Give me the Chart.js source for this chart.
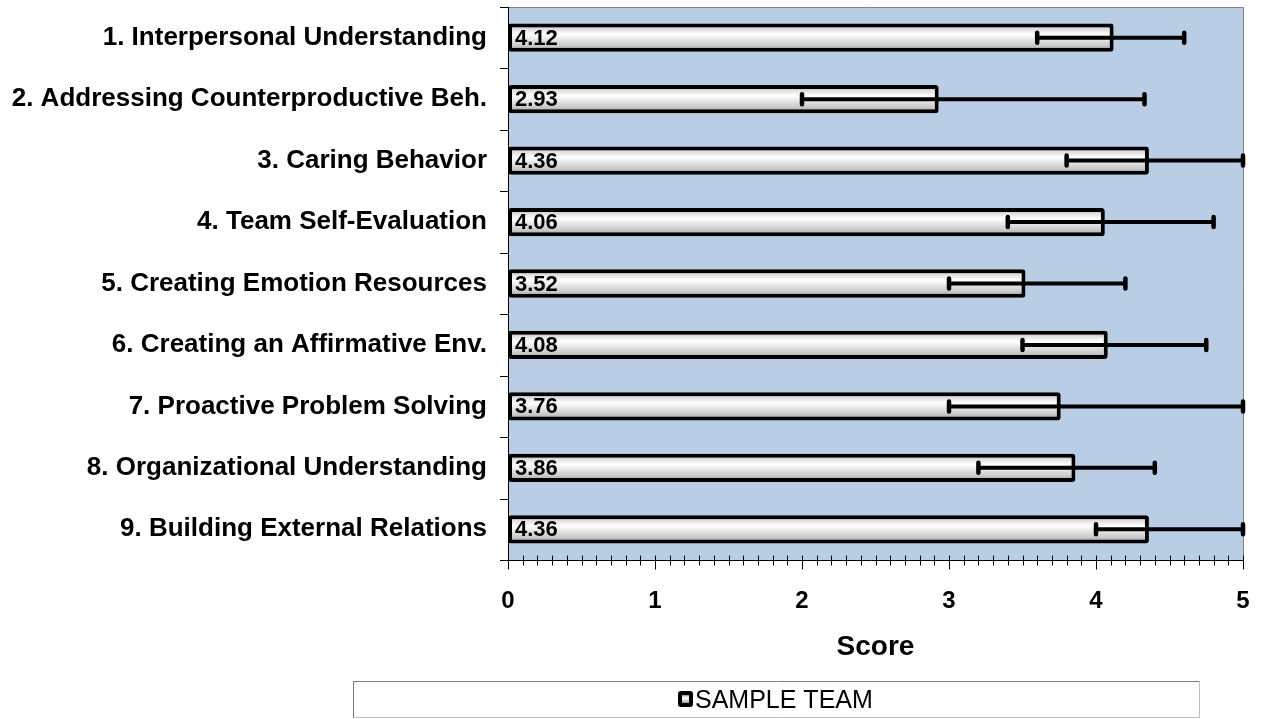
<!DOCTYPE html>
<html>
<head>
<meta charset="utf-8">
<script src="https://cdn.jsdelivr.net/npm/chart.js@4/dist/chart.umd.min.js"></script>
<style>
  html, body { margin: 0; padding: 0; background: #fff; }
  #wrap { width: 1261px; height: 719px; position: relative; }
</style>
</head>
<body>
<div id="wrap"><canvas id="teamChart"></canvas></div>
<script>
// data
const categories = [
  '1. Interpersonal Understanding',
  '2. Addressing Counterproductive Beh.',
  '3. Caring Behavior',
  '4. Team Self-Evaluation',
  '5. Creating Emotion Resources',
  '6. Creating an Affirmative Env.',
  '7. Proactive Problem Solving',
  '8. Organizational Understanding',
  '9. Building External Relations'
];
const scores = [4.12, 2.93, 4.36, 4.06, 3.52, 4.08, 3.76, 3.86, 4.36];
const errLow = [3.6, 2.0, 3.8, 3.4, 3.0, 3.5, 3.0, 3.2, 4.0];
const errHigh = [4.6, 4.33, 5.0, 4.8, 4.2, 4.75, 5.0, 4.4, 5.0];
const seriesName = 'SAMPLE TEAM';
const xMin = 0, xMax = 5;

const FONT = '"Liberation Sans", Arial, sans-serif';

// cylinder-like shading used for the bars
function barGradient(ctx, top, bottom) {
  const g = ctx.createLinearGradient(0, top, 0, bottom);
  g.addColorStop(0, '#8a8a8a');
  g.addColorStop(0.18, '#dcdcdc');
  g.addColorStop(0.38, '#ffffff');
  g.addColorStop(0.78, '#c9c9c9');
  g.addColorStop(1, '#979797');
  return g;
}

const decor = {
  id: 'decor',
  beforeDraw(chart) {
    const { ctx, chartArea: a } = chart;
    ctx.save();
    ctx.fillStyle = '#B9CDE5';
    ctx.fillRect(a.left, a.top, a.right - a.left, a.bottom - a.top);
    // plot border (top / right)
    ctx.strokeStyle = '#808080';
    ctx.lineWidth = 1;
    ctx.beginPath();
    ctx.moveTo(a.left - 8, Math.round(a.top) + 0.5);
    ctx.lineTo(Math.round(a.right) + 0.5, Math.round(a.top) + 0.5);
    ctx.lineTo(Math.round(a.right) + 0.5, a.bottom);
    ctx.stroke();
    ctx.restore();
  },
  beforeDatasetsDraw(chart) {
    const { ctx, chartArea: a, scales } = chart;
    const xs = scales.x, ys = scales.y;
    ctx.save();
    ctx.strokeStyle = '#000';
    ctx.lineWidth = 1;
    // left axis + category ticks
    ctx.beginPath();
    ctx.moveTo(Math.round(a.left) + 0.5, a.top);
    ctx.lineTo(Math.round(a.left) + 0.5, a.bottom);
    for (let i = 0; i <= categories.length; i++) {
      const y = Math.round(ys.getPixelForValue(i - 0.5)) + 0.5;
      ctx.moveTo(a.left - 8, y);
      ctx.lineTo(a.left, y);
    }
    // bottom axis + minor / major ticks
    const yb = Math.round(a.bottom) + 0.5;
    ctx.moveTo(a.left - 8, yb);
    ctx.lineTo(a.right, yb);
    for (let k = xMin * 10; k <= xMax * 10; k++) {
      const x = Math.round(xs.getPixelForValue(k / 10)) + 0.5;
      const major = k % 10 === 0;
      ctx.moveTo(x, yb - 5);
      ctx.lineTo(x, yb + (major ? 9 : 5));
    }
    ctx.stroke();
    ctx.restore();
  },
  afterDatasetsDraw(chart) {
    const { ctx, scales } = chart;
    const xs = scales.x, ys = scales.y;
    ctx.save();
    ctx.strokeStyle = '#000';
    categories.forEach((c, i) => {
      const y = ys.getPixelForValue(i);
      const x1 = xs.getPixelForValue(errLow[i]);
      const x2 = xs.getPixelForValue(errHigh[i]);
      ctx.lineCap = 'butt';
      ctx.lineWidth = 4;
      ctx.beginPath();
      ctx.moveTo(x1, y);
      ctx.lineTo(x2, y);
      ctx.stroke();
      ctx.lineCap = 'round';
      ctx.lineWidth = 4.5;
      ctx.beginPath();
      ctx.moveTo(x1, y - 5);
      ctx.lineTo(x1, y + 5);
      ctx.moveTo(x2, y - 5);
      ctx.lineTo(x2, y + 5);
      ctx.stroke();
    });
    // value labels inside the bars
    ctx.fillStyle = '#000';
    ctx.font = 'bold 22px ' + FONT;
    ctx.textAlign = 'left';
    ctx.textBaseline = 'middle';
    scores.forEach((v, i) => {
      ctx.fillText(v.toFixed(2), xs.getPixelForValue(0) + 7, ys.getPixelForValue(i) + 1);
    });
    ctx.restore();
  },
  afterDraw(chart) {
    // legend box at the bottom
    const ctx = chart.ctx;
    ctx.save();
    ctx.strokeStyle = '#7a7a7a';
    ctx.lineWidth = 1;
    ctx.beginPath();
    ctx.moveTo(353.5, 718);
    ctx.lineTo(353.5, 681.5);
    ctx.lineTo(1199.5, 681.5);
    ctx.stroke();
    ctx.strokeStyle = '#c0c0c0';
    ctx.beginPath();
    ctx.moveTo(1199.5, 681.5);
    ctx.lineTo(1199.5, 717.5);
    ctx.lineTo(353.5, 717.5);
    ctx.stroke();
    // icon
    ctx.fillStyle = '#000';
    ctx.beginPath();
    ctx.roundRect(678, 691, 15, 16, 3);
    ctx.fill();
    ctx.fillStyle = barGradient(ctx, 695, 703);
    ctx.fillRect(682, 695, 7, 8);
    ctx.fillStyle = '#000';
    ctx.font = '25px ' + FONT;
    ctx.textAlign = 'left';
    ctx.textBaseline = 'alphabetic';
    ctx.fillText(seriesName, 695, 708);
    ctx.restore();
  }
};

const ctx = document.getElementById('teamChart').getContext('2d');
new Chart(ctx, {
  type: 'bar',
  data: {
    labels: categories,
    datasets: [{
      label: seriesName,
      data: scores,
      backgroundColor: (c) => {
        const chart = c.chart;
        if (!chart.chartArea || c.dataIndex === undefined) return '#dddddd';
        const ys = chart.scales.y;
        const step = ys.getPixelForValue(1) - ys.getPixelForValue(0);
        const yc = ys.getPixelForValue(c.dataIndex);
        const half = step * 0.46 / 2;
        return barGradient(chart.ctx, yc - half, yc + half);
      },
      borderColor: '#000',
      borderWidth: 4,
      borderRadius: 3,
      borderSkipped: false,
      barPercentage: 0.46,
      categoryPercentage: 1.0
    }]
  },
  options: {
    indexAxis: 'y',
    responsive: true,
    maintainAspectRatio: false,
    animation: false,
    layout: { padding: { top: 7, right: 18, bottom: 55, left: 0 } },
    plugins: {
      legend: { display: false },
      tooltip: { enabled: false }
    },
    scales: {
      x: {
        min: xMin,
        max: xMax,
        ticks: {
          stepSize: 1,
          color: '#000',
          padding: 27,
          font: { family: FONT, size: 24, weight: 'bold' }
        },
        grid: { display: false, drawTicks: false },
        border: { display: false },
        title: {
          display: true,
          text: 'Score',
          color: '#000',
          padding: { top: 0, bottom: 0 },
          font: { family: FONT, size: 28, weight: 'bold' }
        },
        afterFit(scale) {
          scale.height = 104;
          scale.paddingLeft = 0;
          scale.paddingRight = 0;
        }
      },
      y: {
        ticks: {
          color: '#000',
          padding: 21,
          autoSkip: false,
          font: { family: FONT, size: 26, weight: 'bold' }
        },
        grid: { display: false, drawTicks: false },
        border: { display: false },
        afterFit(scale) {
          scale.width = 508;
          scale.paddingTop = 0;
          scale.paddingBottom = 0;
        }
      }
    }
  },
  plugins: [decor]
});
</script>
</body>
</html>
